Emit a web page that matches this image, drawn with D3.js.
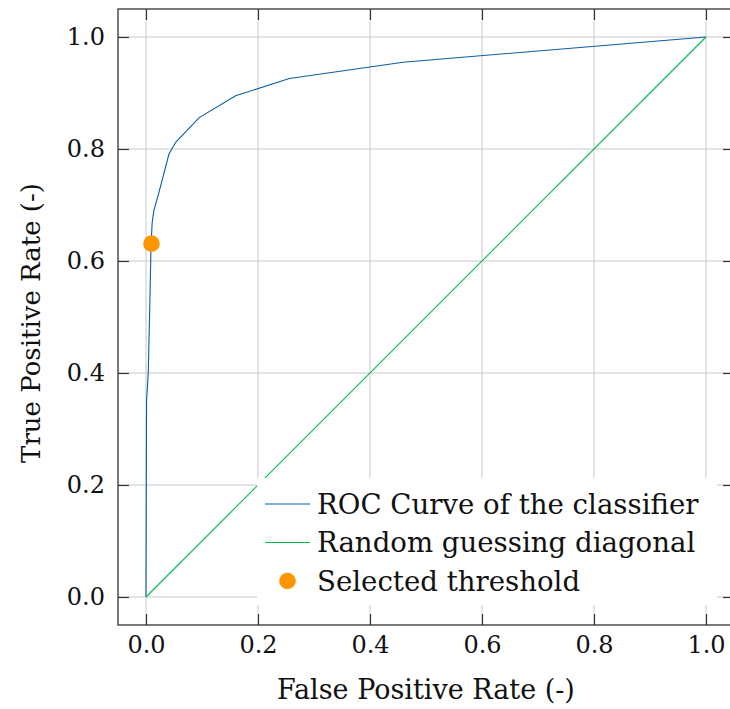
<!DOCTYPE html>
<html>
<head>
<meta charset="utf-8">
<script src="https://cdn.jsdelivr.net/npm/d3@7"></script>
<style>
  body { margin: 0; background: #fff; }
  svg text { font-family: 'DejaVu Serif', 'Liberation Serif', serif; fill: #111; }
</style>
</head>
<body>
<div id="chart"></div>
<script>
// ROC curve
var rocFpr = [0, 0.001, 0.004, 0.007, 0.009, 0.011, 0.014, 0.023, 0.041, 0.053, 0.095, 0.160, 0.256, 0.459, 1.0];
var rocTpr = [0, 0.350, 0.400, 0.530, 0.630, 0.668, 0.690, 0.722, 0.791, 0.812, 0.856, 0.895, 0.926, 0.955, 1.0];
var diagFpr = [0, 1];
var diagTpr = [0, 1];
var thresholdPoint = [0.0098, 0.631];
var tickValues = [0, 0.2, 0.4, 0.6, 0.8, 1.0];
var legendLabels = ['ROC Curve of the classifier', 'Random guessing diagonal', 'Selected threshold'];

var W = 730, H = 709;
// plot box (window.top is reserved, so avoid plain "top")
var box = {left: 118, right: 734, top: 9, bottom: 625};
var colors = {roc: '#0C5DA5', diag: '#00B945', dot: '#FF9500'};

var svg = d3.select('#chart').append('svg')
  .attr('width', W)
  .attr('height', H);

var x = d3.scaleLinear().domain([-0.05, 1.05]).range([box.left, box.right]);
var y = d3.scaleLinear().domain([-0.05, 1.05]).range([box.bottom, box.top]);

svg.append('defs').append('clipPath').attr('id', 'plotclip')
  .append('rect')
  .attr('x', box.left).attr('y', box.top)
  .attr('width', box.right - box.left).attr('height', box.bottom - box.top);

// grid
var grid = svg.append('g').attr('class', 'grid');
grid.selectAll('.gx').data(tickValues).enter().append('line')
  .attr('x1', function (d) { return x(d); })
  .attr('x2', function (d) { return x(d); })
  .attr('y1', box.top).attr('y2', box.bottom)
  .attr('stroke', '#c9c9c9').attr('stroke-width', 1);
grid.selectAll('.gy').data(tickValues).enter().append('line')
  .attr('y1', function (d) { return y(d); })
  .attr('y2', function (d) { return y(d); })
  .attr('x1', box.left).attr('x2', box.right)
  .attr('stroke', '#c9c9c9').attr('stroke-width', 1);

var plot = svg.append('g').attr('clip-path', 'url(#plotclip)');

var line = d3.line()
  .x(function (d) { return x(d[0]); })
  .y(function (d) { return y(d[1]); });

plot.append('path')
  .datum(d3.zip(rocFpr, rocTpr))
  .attr('d', line)
  .attr('fill', 'none')
  .attr('stroke', colors.roc)
  .attr('stroke-width', 1.1);

plot.append('path')
  .datum(d3.zip(diagFpr, diagTpr))
  .attr('d', line)
  .attr('fill', 'none')
  .attr('stroke', colors.diag)
  .attr('stroke-width', 1.1);

plot.append('circle')
  .attr('cx', x(thresholdPoint[0]))
  .attr('cy', y(thresholdPoint[1]))
  .attr('r', 8.3)
  .attr('fill', colors.dot);

// axes, ticks pointing inward on all four sides
function styleAxis (g) {
  g.select('.domain').remove();
  g.selectAll('.tick line').attr('stroke', '#333').attr('stroke-width', 1.2);
  g.selectAll('.tick text').style('font-size', '24px').attr('fill', '#111');
}

var fmt = d3.format('.1f');

svg.append('g')
  .attr('transform', 'translate(0,' + box.bottom + ')')
  .call(d3.axisBottom(x).tickValues(tickValues).tickFormat(fmt).tickSize(-11).tickPadding(11))
  .call(styleAxis);

svg.append('g')
  .attr('transform', 'translate(' + box.left + ',0)')
  .call(d3.axisLeft(y).tickValues(tickValues).tickFormat(fmt).tickSize(-11).tickPadding(13))
  .call(styleAxis);

svg.append('g')
  .attr('transform', 'translate(0,' + box.top + ')')
  .call(d3.axisTop(x).tickValues(tickValues).tickFormat('').tickSize(-11))
  .call(styleAxis);

svg.append('g')
  .attr('transform', 'translate(' + box.right + ',0)')
  .call(d3.axisRight(y).tickValues(tickValues).tickFormat('').tickSize(-11))
  .call(styleAxis);

// legend (white box, no edge)
var legend = svg.append('g');
legend.append('rect')
  .attr('x', 257).attr('y', 478)
  .attr('width', 460).attr('height', 127)
  .attr('fill', '#fff');

var rowY = [504, 542.5, 581];
var handleColors = [colors.roc, colors.diag, colors.dot];
legendLabels.forEach(function (label, i) {
  if (i < 2) {
    legend.append('line')
      .attr('x1', 265).attr('x2', 310)
      .attr('y1', rowY[i]).attr('y2', rowY[i])
      .attr('stroke', handleColors[i]).attr('stroke-width', 1.1);
  } else {
    legend.append('circle')
      .attr('cx', 287.5).attr('cy', rowY[i])
      .attr('r', 8.3)
      .attr('fill', handleColors[i]);
  }
  legend.append('text')
    .attr('x', 317)
    .attr('y', rowY[i] + 9.5)
    .style('font-size', '27.6px')
    .text(label);
});

// spines on top
svg.append('rect')
  .attr('x', box.left).attr('y', box.top)
  .attr('width', box.right - box.left).attr('height', box.bottom - box.top)
  .attr('fill', 'none')
  .attr('stroke', '#333')
  .attr('stroke-width', 1.3);

// axis labels
svg.append('text')
  .attr('x', (x(0) + x(1)) / 2)
  .attr('y', 699)
  .attr('text-anchor', 'middle')
  .style('font-size', '27px')
  .text('False Positive Rate (-)');

svg.append('text')
  .attr('transform', 'translate(40,' + (y(0.5) + 6) + ') rotate(-90)')
  .attr('text-anchor', 'middle')
  .style('font-size', '26px')
  .text('True Positive Rate (-)');
</script>
</body>
</html>
